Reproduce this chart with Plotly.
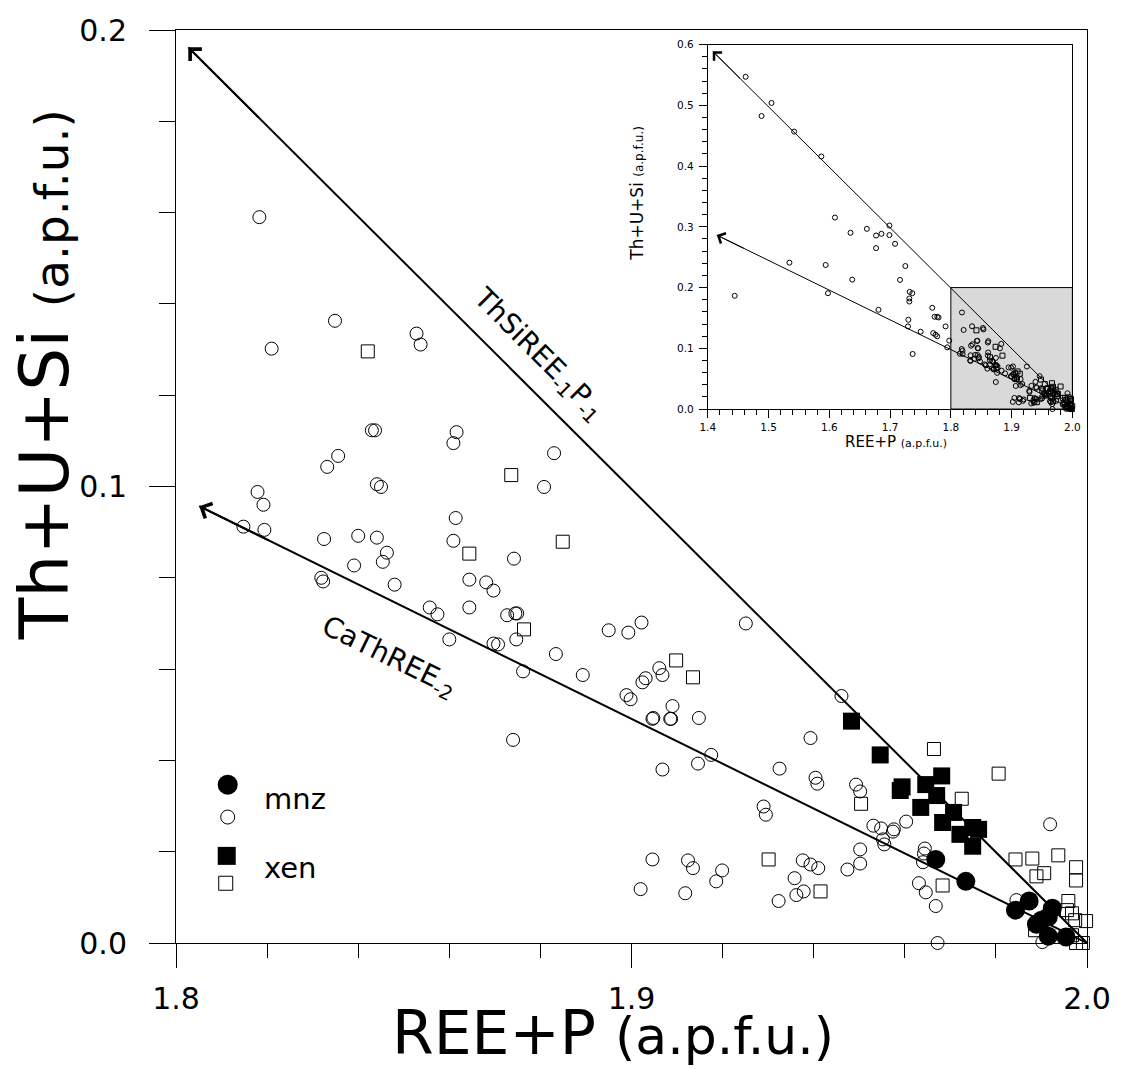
import plotly.graph_objects as go

# ---------------- data (REE+P vs Th+U+Si, a.p.f.u.) ----------------
# monazite, open symbols
mnz_open_x = [1.8183, 1.8349, 1.8210, 1.8528, 1.8537, 1.8430, 1.8437, 1.8616, 1.8609, 1.8356,
              1.8332, 1.8441, 1.8450, 1.8179, 1.8192, 1.8614, 1.8830, 1.8808, 1.8148, 1.8194,
              1.8325, 1.8400, 1.8441, 1.8463, 1.8454, 1.8391, 1.8319, 1.8323, 1.8480, 1.8609,
              1.8644, 1.8681, 1.8697, 1.8644, 1.8557, 1.8574, 1.8600, 1.8697, 1.8707, 1.8742,
              1.8727, 1.8745, 1.8749, 1.8747, 1.8834, 1.8762, 1.8893, 1.8950, 1.8993, 1.9022,
              1.9251, 1.9061, 1.9068, 1.9031, 1.9024, 1.8989, 1.8998, 1.9090, 1.9048, 1.9046,
              1.9085, 1.9087, 1.9148, 1.8740, 1.9175, 1.9146, 1.9068, 1.9325, 1.9290, 1.9295,
              1.9461, 1.9393, 1.9404, 1.9408, 1.9493, 1.9502, 1.9531, 1.9548, 1.9574, 1.9576,
              1.9603, 1.9552, 1.9555, 1.9502, 1.9502, 1.9474, 1.9376, 1.9393, 1.9410, 1.9358,
              1.9362, 1.9378, 1.9323, 1.9644, 1.9642, 1.9640, 1.9631, 1.9646, 1.9668, 1.9672,
              1.9919, 1.9046, 1.9124, 1.9135, 1.9199, 1.9186, 1.9020, 1.9118, 1.9845, 1.9902]
mnz_open_y = [0.1590, 0.1363, 0.1302, 0.1335, 0.1311, 0.1123, 0.1123, 0.1119, 0.1095, 0.1067,
              0.1043, 0.1005, 0.0999, 0.0988, 0.0960, 0.0931, 0.1073, 0.0999, 0.0912, 0.0905,
              0.0885, 0.0892, 0.0888, 0.0855, 0.0835, 0.0827, 0.0800, 0.0792, 0.0785, 0.0881,
              0.0796, 0.0790, 0.0772, 0.0735, 0.0735, 0.0720, 0.0665, 0.0656, 0.0654, 0.0842,
              0.0718, 0.0722, 0.0722, 0.0665, 0.0633, 0.0595, 0.0587, 0.0685, 0.0680, 0.0702,
              0.0700, 0.0602, 0.0587, 0.0580, 0.0571, 0.0543, 0.0534, 0.0519, 0.0493, 0.0491,
              0.0491, 0.0491, 0.0493, 0.0445, 0.0412, 0.0393, 0.0380, 0.0382, 0.0299, 0.0281,
              0.0541, 0.0449, 0.0362, 0.0349, 0.0347, 0.0332, 0.0257, 0.0251, 0.0244, 0.0249,
              0.0266, 0.0227, 0.0216, 0.0205, 0.0174, 0.0161, 0.0181, 0.0172, 0.0164, 0.0142,
              0.0105, 0.0113, 0.0092, 0.0207, 0.0196, 0.0177, 0.0131, 0.0111, 0.0081, 0.0000,
              0.0260, 0.0183, 0.0181, 0.0164, 0.0159, 0.0135, 0.0118, 0.0109, 0.0094, 0.0002]

# monazite, filled symbols
mnz_fill_x = [1.9668, 1.9734, 1.9843, 1.9873, 1.9924, 1.9889, 1.9915, 1.9900, 1.9915, 1.9954]
mnz_fill_y = [0.0183, 0.0135, 0.0072, 0.0092, 0.0076, 0.0041, 0.0057, 0.0050, 0.0015, 0.0013]

# xenotime, filled symbols
xen_fill_x = [1.9483, 1.9546, 1.9594, 1.9590, 1.9646, 1.9681, 1.9670, 1.9635, 1.9707, 1.9683,
              1.9721, 1.9749, 1.9762, 1.9749]
xen_fill_y = [0.0486, 0.0412, 0.0342, 0.0334, 0.0347, 0.0366, 0.0323, 0.0297, 0.0286, 0.0264,
              0.0238, 0.0253, 0.0249, 0.0212]

# xenotime, open symbols
xen_open_x = [1.8421, 1.8736, 1.8849, 1.8644, 1.8764, 1.9098, 1.9135, 1.9301, 1.9415, 1.9683,
              1.9504, 1.9664, 1.9725, 1.9806, 1.9843, 1.9880, 1.9937, 1.9889, 1.9906, 1.9976,
              1.9976, 2.0002, 2.0002, 1.9959, 2.0004, 1.9956, 1.9967, 1.9998, 1.9974, 2.0004,
              1.9976, 1.9991, 1.9886, 1.9967, 2.0011]
xen_open_y = [0.1296, 0.1025, 0.0879, 0.0853, 0.0687, 0.0619, 0.0582, 0.0183, 0.0113, 0.0126,
              0.0305, 0.0425, 0.0316, 0.0371, 0.0183, 0.0185, 0.0192, 0.0146, 0.0153, 0.0166,
              0.0137, 0.0129, 0.0111, 0.0092, 0.0094, 0.0072, 0.0065, 0.0048, 0.0050, 0.0013,
              0.0000, 0.0000, 0.0028, 0.0017, 0.0028]

# additional monazite analyses only visible in the full-range inset
wide_mnz_x = [1.4623, 1.5049, 1.4885, 1.5421, 1.5869, 1.6093, 1.6349, 1.6618, 1.6770, 1.6858,
              1.6989, 1.6989, 1.7082, 1.6770, 1.5344, 1.5940, 1.6377, 1.7251, 1.7164, 1.4443,
              1.5978, 1.7322, 1.7366, 1.7317, 1.7317, 1.6809, 1.7694, 1.7732, 1.7776, 1.7798,
              1.7301, 1.7295, 1.7503, 1.7710, 1.7749, 1.7776, 1.7913, 1.7973, 1.7940, 1.7372]
wide_mnz_y = [0.5470, 0.5040, 0.4825, 0.4568, 0.4159, 0.3153, 0.2902, 0.2967, 0.2857, 0.2885,
              0.3022, 0.2864, 0.2721, 0.2650, 0.2410, 0.2372, 0.2131, 0.2355, 0.2126, 0.1864,
              0.1907, 0.1929, 0.1907, 0.1820, 0.1770, 0.1634, 0.1667, 0.1519, 0.1519, 0.1508,
              0.1470, 0.1361, 0.1273, 0.1251, 0.1224, 0.1197, 0.1361, 0.1126, 0.1016, 0.0907]

# substitution vectors (start at ideal end-member, end at arrow tip)
thsi_main_x = [2.0, 1.8027]
thsi_main_y = [0.0, 0.1962]
cath_main_x = [2.0, 1.8051]
cath_main_y = [0.0, 0.0957]
thsi_inset_x = [2.0, 1.4082]
thsi_inset_y = [0.0, 0.5890]
cath_inset_x = [2.0, 1.4148]
cath_inset_y = [0.0, 0.2864]

main_x_ticks = [1.8, 1.9, 2.0]
main_y_ticks = [0.0, 0.1, 0.2]
inset_x_ticks = [1.4, 1.5, 1.6, 1.7, 1.8, 1.9, 2.0]
inset_y_ticks = [0.0, 0.1, 0.2, 0.3, 0.4, 0.5, 0.6]

# ---------------- figure ----------------
FONT = "DejaVu Sans"
INK = "black"
W, H = 1123, 1069
ML, MR, MT, MB = 176, 31, 26, 126
PW, PH = W - ML - MR, H - MT - MB


def px(xp):
    """pixel column -> paper x"""
    return (xp - ML) / PW


def py(yp):
    """pixel row -> paper y"""
    return (H - MB - yp) / PH


def minor_vals(lo, hi, step, majors):
    n = int(round((hi - lo) / step))
    vals = [round(lo + i * step, 4) for i in range(n + 1)]
    return [v for v in vals if all(abs(v - m) > 1e-9 for m in majors)]


fig = go.Figure()

# ---- main panel ----
for lx, ly in ((thsi_main_x, thsi_main_y), (cath_main_x, cath_main_y)):
    fig.add_trace(go.Scatter(x=lx, y=ly, mode="lines", line=dict(color=INK, width=2),
                             hoverinfo="skip", showlegend=False, xaxis="x", yaxis="y"))

fig.add_trace(go.Scatter(x=mnz_open_x, y=mnz_open_y, mode="markers", cliponaxis=False,
                         marker=dict(symbol="circle-open", size=13, color=INK, line=dict(width=1)),
                         showlegend=False, xaxis="x", yaxis="y"))
fig.add_trace(go.Scatter(x=xen_open_x, y=xen_open_y, mode="markers", cliponaxis=False,
                         marker=dict(symbol="square-open", size=13, color=INK, line=dict(width=1)),
                         showlegend=False, xaxis="x", yaxis="y"))
fig.add_trace(go.Scatter(x=xen_fill_x, y=xen_fill_y, mode="markers", cliponaxis=False,
                         marker=dict(symbol="square", size=17, color=INK, line=dict(width=0)),
                         showlegend=False, xaxis="x", yaxis="y"))
fig.add_trace(go.Scatter(x=mnz_fill_x, y=mnz_fill_y, mode="markers", cliponaxis=False,
                         marker=dict(symbol="circle", size=19, color=INK, line=dict(width=0)),
                         showlegend=False, xaxis="x", yaxis="y"))

# ---- inset: full range ----
for lx, ly in ((thsi_inset_x, thsi_inset_y), (cath_inset_x, cath_inset_y)):
    fig.add_trace(go.Scatter(x=lx, y=ly, mode="lines", line=dict(color=INK, width=1),
                             hoverinfo="skip", showlegend=False, xaxis="x2", yaxis="y2"))

all_mnz_x = wide_mnz_x + mnz_open_x + mnz_fill_x
all_mnz_y = wide_mnz_y + mnz_open_y + mnz_fill_y
all_xen_x = xen_open_x + xen_fill_x
all_xen_y = xen_open_y + xen_fill_y
fig.add_trace(go.Scatter(x=all_mnz_x, y=all_mnz_y, mode="markers", cliponaxis=False,
                         marker=dict(symbol="circle-open", size=5, color=INK, line=dict(width=1)),
                         showlegend=False, xaxis="x2", yaxis="y2"))
fig.add_trace(go.Scatter(x=all_xen_x, y=all_xen_y, mode="markers", cliponaxis=False,
                         marker=dict(symbol="square-open", size=5, color=INK, line=dict(width=1)),
                         showlegend=False, xaxis="x2", yaxis="y2"))

# ---- axes ----
axis_common = dict(showline=True, linecolor=INK, linewidth=1, mirror=True, showgrid=False,
                   zeroline=False, ticks="outside", tickcolor=INK, tickwidth=1, tickmode="array")

fig.update_layout(
    width=W, height=H, autosize=False,
    margin=dict(l=ML, r=MR, t=MT, b=MB, pad=0),
    paper_bgcolor="white", plot_bgcolor="white",
    showlegend=False,
    xaxis=dict(axis_common, domain=[0, 1], range=[1.8, 2.0], anchor="y",
               tickvals=main_x_ticks, ticktext=[f"{v:.1f}" for v in main_x_ticks],
               ticklen=24, ticklabelstandoff=5,
               tickfont=dict(family=FONT, size=30, color=INK),
               minor=dict(tickvals=minor_vals(1.8, 2.0, 0.02, main_x_ticks), ticks="outside",
                          ticklen=14, tickwidth=1, tickcolor=INK, showgrid=False)),
    yaxis=dict(axis_common, domain=[0, 1], range=[0.0, 0.2], anchor="x",
               tickvals=main_y_ticks, ticktext=[f"{v:.1f}" for v in main_y_ticks],
               ticklen=26, ticklabelstandoff=16,
               tickfont=dict(family=FONT, size=30, color=INK),
               minor=dict(tickvals=minor_vals(0.0, 0.2, 0.02, main_y_ticks), ticks="outside",
                          ticklen=16, tickwidth=1, tickcolor=INK, showgrid=False)),
    xaxis2=dict(axis_common, domain=[px(710.7), px(1077.3)], range=[1.4, 2.0], anchor="y2",
                tickvals=inset_x_ticks, ticktext=[f"{v:.1f}" for v in inset_x_ticks],
                ticklen=8, ticklabelstandoff=0,
                tickfont=dict(family=FONT, size=10.5, color=INK),
                minor=dict(tickvals=minor_vals(1.4, 2.0, 0.02, inset_x_ticks), ticks="outside",
                           ticklen=5, tickwidth=1, tickcolor=INK, showgrid=False)),
    yaxis2=dict(axis_common, domain=[py(406.7), py(40.7)], range=[0.0, 0.6], anchor="x2",
                tickvals=inset_y_ticks, ticktext=[f"{v:.1f}" for v in inset_y_ticks],
                ticklen=8, ticklabelstandoff=3,
                tickfont=dict(family=FONT, size=10.5, color=INK),
                minor=dict(tickvals=minor_vals(0.0, 0.6, 0.02, inset_y_ticks), ticks="outside",
                           ticklen=5, tickwidth=1, tickcolor=INK, showgrid=False)),
)

# zoom window of the main panel, shaded in the inset
shapes = [dict(type="rect", xref="x2", yref="y2", x0=1.8, x1=2.0, y0=0.0, y1=0.2,
               fillcolor="#d9d9d9", line=dict(color=INK, width=1), layer="below")]

# hand-made key
def key_shape(kind, cx, cy, size, filled):
    h = size / 2
    return dict(type=kind, xref="paper", yref="paper", xsizemode="pixel", ysizemode="pixel",
                xanchor=px(cx), yanchor=py(cy), x0=-h, x1=h, y0=-h, y1=h,
                fillcolor=INK if filled else "white",
                line=dict(color=INK, width=0 if filled else 1))


shapes += [key_shape("circle", 228, 784, 20, True),
           key_shape("circle", 228, 816.5, 14, False),
           key_shape("rect", 227, 855.5, 18, True),
           key_shape("rect", 226, 883, 14, False)]
fig.update_layout(shapes=shapes)

annotations = []

# arrow tips on the substitution vectors
def arrow_tip(lx, ly, xr, yr, width, size):
    tail_x = lx[1] + 0.08 * (lx[0] - lx[1])
    tail_y = ly[1] + 0.08 * (ly[0] - ly[1])
    return dict(x=lx[1], y=ly[1], ax=tail_x, ay=tail_y, xref=xr, yref=yr, axref=xr, ayref=yr,
                text="", showarrow=True, arrowhead=4, arrowsize=size, arrowwidth=width,
                arrowcolor=INK, standoff=0)


annotations += [arrow_tip(thsi_main_x, thsi_main_y, "x", "y", 2, 1.6),
                arrow_tip(cath_main_x, cath_main_y, "x", "y", 2, 1.6),
                arrow_tip(thsi_inset_x, thsi_inset_y, "x2", "y2", 1, 2.2),
                arrow_tip(cath_inset_x, cath_inset_y, "x2", "y2", 1, 2.2)]

# vector labels
annotations += [
    dict(x=px(540), y=py(352), xref="paper", yref="paper",
         text="ThSiREE<sub>-1</sub>P<sub>-1</sub>", textangle=45, showarrow=False,
         font=dict(family=FONT, size=28, color=INK), xanchor="center", yanchor="middle"),
    dict(x=px(390), y=py(656), xref="paper", yref="paper",
         text="CaThREE<sub>-2</sub>", textangle=26, showarrow=False,
         font=dict(family=FONT, size=28, color=INK), xanchor="center", yanchor="middle"),
]

# axis titles
annotations += [
    dict(x=px(615), y=py(1033), xref="paper", yref="paper",
         text="REE+P <span style='font-size:52px'>(a.p.f.u.)</span>", showarrow=False,
         font=dict(family=FONT, size=60, color=INK), xanchor="center", yanchor="middle"),
    dict(x=px(44), y=py(372), xref="paper", yref="paper", textangle=-90,
         text="Th+U+Si <span style='font-size:47px'>(a.p.f.u.)</span>", showarrow=False,
         font=dict(family=FONT, size=68, color=INK), xanchor="center", yanchor="middle"),
    dict(x=px(900), y=py(440), xref="paper", yref="paper",
         text="REE+P <span style='font-size:11px'>(a.p.f.u.)</span>", showarrow=False,
         font=dict(family=FONT, size=15, color=INK), xanchor="center", yanchor="middle"),
    dict(x=px(640), y=py(190), xref="paper", yref="paper", textangle=-90,
         text="Th+U+Si <span style='font-size:12px'>(a.p.f.u.)</span>", showarrow=False,
         font=dict(family=FONT, size=17, color=INK), xanchor="center", yanchor="middle"),
]

# key labels
annotations += [
    dict(x=px(262), y=py(798), xref="paper", yref="paper", text="mnz", showarrow=False,
         font=dict(family=FONT, size=29, color=INK), xanchor="left", yanchor="middle"),
    dict(x=px(262), y=py(868), xref="paper", yref="paper", text="xen", showarrow=False,
         font=dict(family=FONT, size=29, color=INK), xanchor="left", yanchor="middle"),
]

fig.update_layout(annotations=annotations)

fig.write_html("out.html")
